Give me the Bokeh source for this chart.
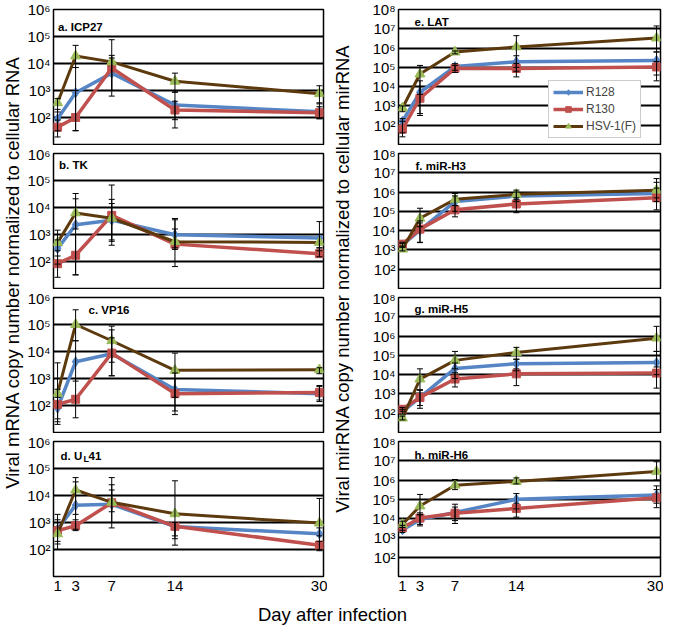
import math
from bokeh.plotting import figure
from bokeh.models import (Range1d, FixedTicker, CustomJSTickFormatter, ColumnDataSource,
                          Whisker, TeeHead, Label, Legend, LegendItem)
from bokeh.layouts import row, column
from bokeh.embed import file_html
from bokeh.resources import INLINE
from bokeh.core.properties import value

# ---------------- data ----------------
DAYS = [1, 3, 7, 14, 30]
X_TICKS = [1, 3, 7, 14, 30]
SERIES = ["R128", "R130", "HSV-1(F)"]
Y_TICKS_MRNA = [1e2, 1e3, 1e4, 1e5, 1e6]
Y_TICKS_MIRNA = [1e2, 1e3, 1e4, 1e5, 1e6, 1e7, 1e8]

# a. ICP27
ICP27_R128 = [90, 830, 4400, 290, 165]
ICP27_R128_HI = [200, 7100, 20000, 870, 350]
ICP27_R128_LO = [32, 33, 620, 41, 90]
ICP27_R130 = [44, 100, 6800, 190, 150]
ICP27_R130_HI = [80, 1000, 16000, 400, 250]
ICP27_R130_LO = [19, 32, 1000, 83, 90]
ICP27_HSV = [350, 19000, 11500, 2200, 760]
ICP27_HSV_HI = [500, 47000, 76000, 4400, 1500]
ICP27_HSV_LO = [160, 7100, 1000, 870, 320]
# b. TK
TK_R128 = [300, 2300, 3400, 980, 740]
TK_R128_HI = [630, 21000, 14000, 3500, 3000]
TK_R128_LO = [80, 32, 630, 280, 320]
TK_R130 = [83, 170, 5100, 440, 195]
TK_R130_HI = [160, 1000, 68000, 1600, 320]
TK_R130_LO = [26, 32, 560, 65, 150]
TK_HSV = [500, 6300, 4000, 540, 510]
TK_HSV_HI = [1450, 33000, 20000, 3900, 1000]
TK_HSV_LO = [250, 1600, 400, 320, 250]
# c. VP16
VP16_R128 = [80, 4200, 8300, 390, 275]
VP16_R128_HI = [200, 25000, 63000, 1600, 550]
VP16_R128_LO = [20, 800, 1260, 46, 140]
VP16_R130 = [110, 170, 8700, 275, 300]
VP16_R130_HI = [400, 1000, 32000, 1000, 500]
VP16_R130_LO = [25, 35, 1260, 63, 160]
VP16_HSV = [280, 100000, 25000, 2000, 2100]
VP16_HSV_HI = [3800, 350000, 87000, 8700, 2500]
VP16_HSV_LO = [32, 25000, 4000, 200, 1500]
# d. UL41
UL41_R128 = [560, 4400, 4700, 710, 380]
UL41_R128_HI = [2000, 32000, 25000, 1000, 630]
UL41_R128_LO = [160, 560, 1000, 250, 100]
UL41_R130 = [500, 760, 5400, 720, 145]
UL41_R130_HI = [1000, 1260, 16000, 1000, 200]
UL41_R130_LO = [200, 500, 630, 145, 90]
UL41_HSV = [380, 16000, 5600, 2100, 950]
UL41_HSV_HI = [1260, 46000, 46000, 35000, 7800]
UL41_HSV_LO = [100, 2000, 2500, 320, 320]
# e. LAT
LAT_R128 = [160, 5100, 110000, 195000, 230000]
LAT_R128_HI = [220, 20000, 155000, 400000, 630000]
LAT_R128_LO = [40, 320, 71000, 63000, 40000]
LAT_R130 = [63, 2500, 89000, 87000, 105000]
LAT_R130_HI = [160, 10000, 126000, 160000, 200000]
LAT_R130_LO = [25, 400, 54000, 32000, 20000]
LAT_HSV = [780, 45000, 620000, 1150000, 3300000]
LAT_HSV_HI = [1000, 126000, 710000, 4400000, 14000000]
LAT_HSV_LO = [500, 4000, 500000, 100000, 630000]
# f. miR-H3
H3_R128 = [1800, 10700, 320000, 620000, 850000]
H3_R128_HI = [2200, 32000, 630000, 1000000, 3200000]
H3_R128_LO = [1400, 2500, 100000, 320000, 320000]
H3_R130 = [2000, 12000, 120000, 240000, 510000]
H3_R130_HI = [2500, 25000, 200000, 400000, 1600000]
H3_R130_LO = [1600, 2400, 52000, 85000, 120000]
H3_HSV = [1100, 44000, 420000, 760000, 1260000]
H3_HSV_HI = [1400, 145000, 850000, 1260000, 5000000]
H3_HSV_LO = [890, 16000, 200000, 500000, 500000]
# g. miR-H5
H5_R128 = [120, 660, 21000, 37000, 42000]
H5_R128_HI = [160, 1600, 40000, 63000, 160000]
H5_R128_LO = [90, 180, 6300, 16000, 10000]
H5_R130 = [160, 660, 5900, 11000, 12000]
H5_R130_HI = [200, 1600, 12600, 20000, 25000]
H5_R130_LO = [126, 250, 2300, 2700, 2000]
H5_HSV = [56, 5900, 55000, 140000, 780000]
H5_HSV_HI = [71, 20000, 160000, 260000, 3200000]
H5_HSV_LO = [45, 1600, 20000, 63000, 160000]
# h. miR-H6
H6_R128 = [2600, 8900, 21000, 100000, 170000]
H6_R128_HI = [3500, 16000, 56000, 200000, 500000]
H6_R128_LO = [1900, 4200, 5600, 32000, 63000]
H6_R130 = [3400, 10700, 19000, 34000, 120000]
H6_R130_HI = [4500, 20000, 40000, 63000, 320000]
H6_R130_LO = [2500, 5000, 7900, 12000, 37000]
H6_HSV = [5000, 45000, 540000, 850000, 2800000]
H6_HSV_HI = [7400, 180000, 1070000, 1300000, 8900000]
H6_HSV_LO = [3500, 16000, 320000, 630000, 1000000]

# ---------------- styling ----------------
FONT = "Liberation Sans"
BLUE = "#5585C5"
RED = "#C0504D"
BROWN = "#5C3A0E"
GREEN = "#9BBB59"

SUP = "⁰¹²³⁴⁵⁶⁷⁸⁹"
fmt_code = ("const s = '%s'; const e = Math.round(Math.log10(tick)); "
            "return '10' + s.charAt(e);" % SUP)

FRAME_H = 135


def make_panel(col, rowi, title_parts, title_dx, title_dy, data, legend=False):
    left = col == 0
    width = 303 if left else 308
    bl = 25 if left else 43
    br = 4 if left else 3
    bt = 9 if rowi == 0 else 8
    bb = 24 if rowi == 3 else 1
    ymax = 1e6 if left else 1e8
    p = figure(width=width, height=bt + FRAME_H + bb, y_axis_type="log",
               x_range=Range1d(0.55, 30.45), y_range=Range1d(10, ymax),
               output_backend="svg", toolbar_location=None, title=None,
               min_border_left=bl, min_border_right=br,
               min_border_top=bt, min_border_bottom=bb)
    p.background_fill_color = "white"
    p.border_fill_color = "white"
    p.outline_line_color = "black"
    p.outline_line_width = 1.5
    p.outline_line_alpha = 1.0

    p.yaxis.ticker = FixedTicker(ticks=Y_TICKS_MRNA if left else Y_TICKS_MIRNA)
    p.yaxis.formatter = CustomJSTickFormatter(code=fmt_code)
    p.yaxis.axis_line_color = None
    p.yaxis.major_tick_line_color = None
    p.yaxis.minor_tick_line_color = None
    p.yaxis.major_tick_out = 0
    p.yaxis.major_label_standoff = 3
    p.yaxis.major_label_text_font = FONT
    p.yaxis.major_label_text_font_size = "15px"
    p.yaxis.major_label_text_color = "black"

    p.xaxis.ticker = FixedTicker(ticks=X_TICKS)
    p.xaxis.axis_line_color = None
    p.xaxis.major_tick_line_color = None
    p.xaxis.minor_tick_line_color = None
    p.xaxis.major_tick_out = 0
    p.xaxis.major_label_standoff = 4
    p.xaxis.major_label_text_font = FONT
    p.xaxis.major_label_text_font_size = "15px"
    p.xaxis.major_label_text_color = "black"
    if rowi != 3:
        p.xaxis.visible = False

    p.xgrid.visible = False
    p.ygrid.grid_line_color = "black"
    p.ygrid.grid_line_width = 2
    p.ygrid.grid_line_alpha = 1.0

    styles = [
        (BLUE, 3.5, "diamond", 10, BLUE),
        (RED, 3.5, "square", 8, RED),
        (BROWN, 3, "triangle", 10, GREEN),
    ]
    items = []
    for name, (vals, hi, lo), (lc, lw, mk, ms, mc) in zip(SERIES, data, styles):
        src = ColumnDataSource(dict(x=DAYS, y=vals, hi=hi, lo=lo))
        ln = p.line("x", "y", source=src, line_color=lc, line_width=lw)
        w = Whisker(source=src, base="x", upper="hi", lower="lo", level="glyph",
                    line_color="black", line_width=1,
                    upper_head=TeeHead(size=6, line_color="black", line_width=1),
                    lower_head=TeeHead(size=6, line_color="black", line_width=1))
        p.add_layout(w)
        sc = p.scatter("x", "y", source=src, marker=mk, size=ms,
                       fill_color=mc, line_color=mc)
        items.append(LegendItem(label=name, renderers=[ln, sc]))

    # panel title
    for txt, size, dx, dy in title_parts:
        p.add_layout(Label(x=0.55, y=ymax, x_offset=title_dx + dx, y_offset=-title_dy + dy,
                           text=txt, text_font=FONT, text_font_size=size,
                           text_font_style="bold", text_baseline="middle",
                           text_align="left", text_color="black"))

    if legend:
        lg = Legend(items=items, location=(150, 6), orientation="vertical",
                    glyph_width=30, glyph_height=14, label_height=14,
                    label_text_font=FONT, label_text_font_size="12px",
                    label_standoff=3, spacing=3, padding=4, margin=0,
                    border_line_color="#9A9A9A", border_line_width=1,
                    background_fill_color="white", background_fill_alpha=1.0)
        p.add_layout(lg, "center")
    return p


T = "11.5px"
left_specs = [
    ([("a. ICP27", T, 0, 0)], 4.5, 17,
     [(ICP27_R128, ICP27_R128_HI, ICP27_R128_LO), (ICP27_R130, ICP27_R130_HI, ICP27_R130_LO),
      (ICP27_HSV, ICP27_HSV_HI, ICP27_HSV_LO)]),
    ([("b. TK", T, 0, 0)], 5.5, 11,
     [(TK_R128, TK_R128_HI, TK_R128_LO), (TK_R130, TK_R130_HI, TK_R130_LO),
      (TK_HSV, TK_HSV_HI, TK_HSV_LO)]),
    ([("c. VP16", T, 0, 0)], 35, 12,
     [(VP16_R128, VP16_R128_HI, VP16_R128_LO), (VP16_R130, VP16_R130_HI, VP16_R130_LO),
      (VP16_HSV, VP16_HSV_HI, VP16_HSV_LO)]),
    ([("d. U", T, 0, 0), ("L", "9px", 23, -3), ("41", T, 28, 0)], 7, 14,
     [(UL41_R128, UL41_R128_HI, UL41_R128_LO), (UL41_R130, UL41_R130_HI, UL41_R130_LO),
      (UL41_HSV, UL41_HSV_HI, UL41_HSV_LO)]),
]
right_specs = [
    ([("e. LAT", T, 0, 0)], 16, 12,
     [(LAT_R128, LAT_R128_HI, LAT_R128_LO), (LAT_R130, LAT_R130_HI, LAT_R130_LO),
      (LAT_HSV, LAT_HSV_HI, LAT_HSV_LO)]),
    ([("f. miR-H3", T, 0, 0)], 17, 12,
     [(H3_R128, H3_R128_HI, H3_R128_LO), (H3_R130, H3_R130_HI, H3_R130_LO),
      (H3_HSV, H3_HSV_HI, H3_HSV_LO)]),
    ([("g. miR-H5", T, 0, 0)], 16, 11,
     [(H5_R128, H5_R128_HI, H5_R128_LO), (H5_R130, H5_R130_HI, H5_R130_LO),
      (H5_HSV, H5_HSV_HI, H5_HSV_LO)]),
    ([("h. miR-H6", T, 0, 0)], 16, 13,
     [(H6_R128, H6_R128_HI, H6_R128_LO), (H6_R130, H6_R130_HI, H6_R130_LO),
      (H6_HSV, H6_HSV_HI, H6_HSV_LO)]),
]

left_figs = [make_panel(0, i, *s) for i, s in enumerate(left_specs)]
right_figs = [make_panel(1, i, *s, legend=(i == 0)) for i, s in enumerate(right_specs)]

COL_H = sum(f.height for f in left_figs)


def text_fig(width, height, text, cx, cy, angle):
    p = figure(width=width, height=height, x_range=Range1d(0, width),
               y_range=Range1d(0, height), x_axis_type=None, y_axis_type=None,
               output_backend="svg", toolbar_location=None, title=None,
               min_border=0)
    p.grid.visible = False
    p.outline_line_color = None
    p.background_fill_color = "white"
    p.border_fill_color = "white"
    p.text(x=[cx], y=[cy], text=[text], angle=angle, text_align="center",
           text_baseline="middle", text_font=value(FONT), text_font_size="18.5px",
           text_color="black")
    return p


vlab_left = text_fig(24, COL_H, "Viral mRNA copy number normalized to cellular RNA",
                     12, COL_H - 272, math.pi / 2)
vlab_right = text_fig(28, COL_H, "Viral mirRNA copy number normalized to cellular mirRNA",
                      15, COL_H - 278, math.pi / 2)
xlab = text_fig(663, 26, "Day after infection", 332, 12, 0)

body = row(vlab_left, column(*left_figs), vlab_right, column(*right_figs))
page = column(body, xlab)

open("out.html", "w").write(file_html(page, INLINE))
